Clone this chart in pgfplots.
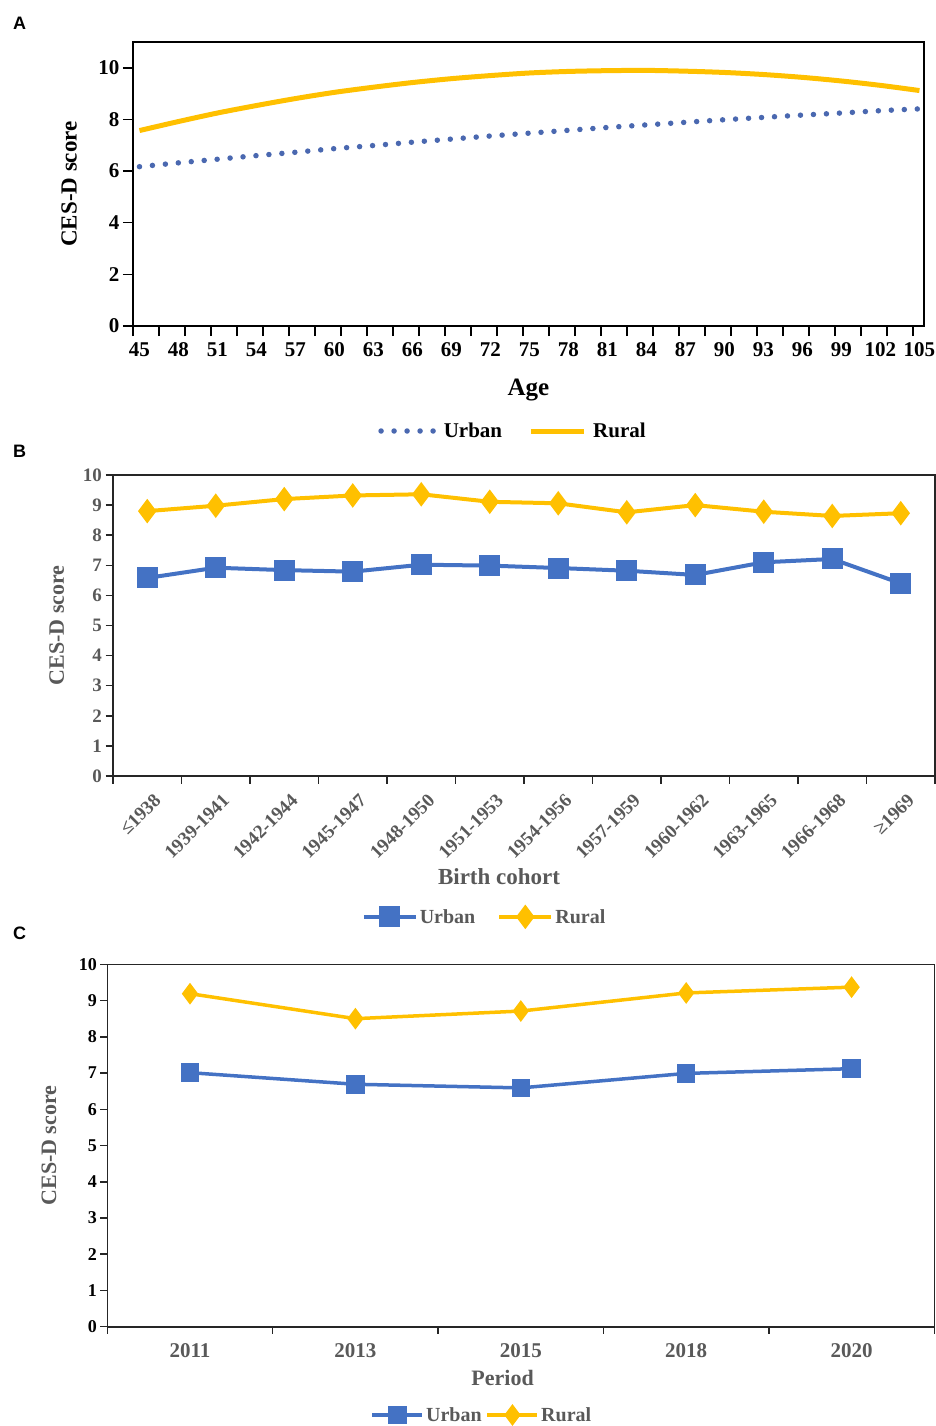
\documentclass[border=0pt]{standalone}
\usepackage{pgfplots}
\pgfplotsset{compat=1.18}
\usepackage{fontspec}
\setmainfont{Liberation Serif}
\newfontfamily\arialfont{Liberation Sans}
\definecolor{ublue}{HTML}{4472C4}
\definecolor{rgold}{HTML}{FFC000}
\definecolor{dotblue}{HTML}{4A68B0}
\definecolor{txtgray}{HTML}{595959}
\begin{document}
\begin{tikzpicture}[x=1pt,y=1pt]
\path[use as bounding box] (0,0) rectangle (936,-1426);
\node[font=\arialfont\bfseries\fontsize{18}{20}\selectfont] at (19.5,-23.5) {A};
\node[font=\arialfont\bfseries\fontsize{18}{20}\selectfont] at (19.5,-451.5) {B};
\node[font=\arialfont\bfseries\fontsize{18}{20}\selectfont] at (19.5,-933) {C};

% ---------------- Panel A ----------------
\begin{axis}[
  at={(133pt,-326pt)}, anchor=south west,
  scale only axis, width=791pt, height=284pt,
  xmin=44.5, xmax=105.35, ymin=0, ymax=11,
  axis line style={line width=1.6pt, black},
  xtick={45,48,...,105},
  minor xtick={44.5,46.5,...,104.5},
  ytick={0,2,...,10},
  tick align=outside,
  xtick pos=left, ytick pos=left,
  major tick length=10pt, minor tick length=10pt,
  tick style={line width=1.5pt, black},
  major x tick style={draw=none},
  tick label style={font=\fontsize{21}{24}\selectfont\bfseries},
  xticklabel style={yshift=-3pt},
  /pgf/number format/assume math mode=true,
  xlabel={Age}, ylabel={CES-D score},
  xlabel style={font=\fontsize{25}{28}\selectfont\bfseries, at={(axis description cs:0.5,-0.243)}, anchor=base},
  ylabel style={font=\fontsize{23}{26}\selectfont\bfseries, at={(axis description cs:-0.0809,0.5)}, anchor=center},
  legend style={at={(0.4804,-0.3697)}, anchor=center, draw=none, fill=none,
    font=\fontsize{21}{24}\selectfont\bfseries,
    /tikz/every odd column/.append style={column sep=5pt},
    /tikz/every even column/.append style={column sep=24pt}},
  legend columns=2,
  legend image code/.code={\draw[#1] (0pt,0pt) -- (53pt,0pt);},
]
\addplot[dotblue, line width=5.5pt, line cap=round, dash pattern=on 0pt off 13pt, smooth] coordinates {
(45,6.17) (48,6.32) (51,6.46) (54,6.60) (57,6.73) (60,6.87) (63,6.99) (66,7.12) (69,7.24) (72,7.36) (75,7.47)
(78,7.58) (81,7.69) (84,7.79) (87,7.89) (90,7.99) (93,8.08) (96,8.17) (99,8.25) (102,8.34) (105,8.41)};
\addlegendentry{Urban}
\addplot[rgold, line width=5pt, smooth] coordinates {
(45,7.57) (48,7.92) (51,8.25) (54,8.54) (57,8.81) (60,9.05) (63,9.25) (66,9.43) (69,9.58) (72,9.70) (75,9.80)
(78,9.86) (81,9.89) (84,9.90) (87,9.87) (90,9.82) (93,9.74) (96,9.63) (99,9.49) (102,9.32) (105,9.12)};
\addlegendentry{Rural}
\end{axis}

% ---------------- Panel B ----------------
\begin{axis}[
  at={(113pt,-776pt)}, anchor=south west,
  scale only axis, width=822pt, height=301pt,
  xmin=-0.5, xmax=11.5, ymin=0, ymax=10,
  axis line style={line width=1.6pt, black!85},
  xtick={0,...,11},
  xticklabels={≤1938,1939-1941,1942-1944,1945-1947,1948-1950,1951-1953,1954-1956,1957-1959,1960-1962,1963-1965,1966-1968,≥1969},
  minor xtick={-0.5,0.5,...,11.5},
  ytick={0,1,...,10},
  tick align=outside,
  xtick pos=left, ytick pos=left,
  major tick length=7.5pt, minor tick length=7.5pt,
  tick style={line width=1.5pt, black!85},
  major x tick style={draw=none},
  tick label style={font=\fontsize{19}{22}\selectfont\bfseries, text=txtgray},
  xticklabel style={font=\fontsize{19}{22}\selectfont\bfseries, text=txtgray, rotate=45, anchor=east, xshift=1pt, yshift=-17pt},
  /pgf/number format/assume math mode=true,
  xlabel={Birth cohort}, ylabel={CES-D score},
  xlabel style={font=\fontsize{23}{26}\selectfont\bfseries, text=txtgray, at={(axis description cs:0.4696,-0.362)}, anchor=base},
  ylabel style={font=\fontsize{22}{26}\selectfont\bfseries, text=txtgray, at={(axis description cs:-0.0685,0.5)}, anchor=center},
  legend style={at={(0.452,-0.468)}, anchor=center, draw=none, fill=none,
    font=\fontsize{20}{22}\selectfont\bfseries, text=txtgray,
    /tikz/every even column/.append style={column sep=20pt}},
  legend columns=2,
  legend image code/.code={\draw[mark repeat=2,mark phase=2,#1] plot coordinates {(0pt,0pt) (26pt,0pt) (52pt,0pt)};},
]
\addplot[ublue, line width=4pt, mark=square*, mark size=8.5pt] coordinates {
(0,6.58) (1,6.92) (2,6.84) (3,6.79) (4,7.02) (5,6.99) (6,6.91) (7,6.82) (8,6.68) (9,7.10) (10,7.21) (11,6.40)};
\addlegendentry{Urban}
\addplot[rgold, line width=4pt, mark=diamond*, mark size=9pt] coordinates {
(0,8.80) (1,8.98) (2,9.20) (3,9.32) (4,9.36) (5,9.11) (6,9.06) (7,8.76) (8,9.00) (9,8.78) (10,8.64) (11,8.73)};
\addlegendentry{Rural}
\end{axis}

% ---------------- Panel C ----------------
\begin{axis}[
  at={(107.3pt,-1326.7pt)}, anchor=south west,
  scale only axis, width=827pt, height=362.4pt,
  xmin=-0.5, xmax=4.5, ymin=0, ymax=10,
  axis line style={line width=1.6pt, black!85},
  xtick={0,...,4},
  xticklabels={2011,2013,2015,2018,2020},
  minor xtick={-0.5,0.5,...,4.5},
  ytick={0,1,...,10},
  tick align=outside,
  xtick pos=left, ytick pos=left,
  major tick length=7pt, minor tick length=7pt,
  tick style={line width=1.5pt, black!85},
  major x tick style={draw=none},
  yticklabel style={font=\fontsize{18}{21}\selectfont\bfseries, text=black},
  xticklabel style={font=\fontsize{21}{24}\selectfont\bfseries, text=txtgray, yshift=-6pt},
  /pgf/number format/assume math mode=true,
  xlabel={Period}, ylabel={CES-D score},
  xlabel style={font=\fontsize{22}{25}\selectfont\bfseries, text=txtgray, at={(axis description cs:0.478,-0.161)}, anchor=base},
  ylabel style={font=\fontsize{22}{26}\selectfont\bfseries, text=txtgray, at={(axis description cs:-0.0705,0.5)}, anchor=center},
  legend style={at={(0.453,-0.2437)}, anchor=center, draw=none, fill=none,
    font=\fontsize{20}{22}\selectfont\bfseries, text=txtgray,
    /tikz/every even column/.append style={column sep=2pt}},
  legend columns=2,
  legend image code/.code={\draw[mark repeat=2,mark phase=2,#1] plot coordinates {(0pt,0pt) (25pt,0pt) (50pt,0pt)};},
]
\addplot[ublue, line width=3.5pt, mark=square*, mark size=7.5pt] coordinates {
(0,7.01) (1,6.69) (2,6.59) (3,6.99) (4,7.12)};
\addlegendentry{Urban}
\addplot[rgold, line width=3.5pt, mark=diamond*, mark size=8pt] coordinates {
(0,9.19) (1,8.50) (2,8.71) (3,9.21) (4,9.37)};
\addlegendentry{Rural}
\end{axis}
\end{tikzpicture}
\end{document}
